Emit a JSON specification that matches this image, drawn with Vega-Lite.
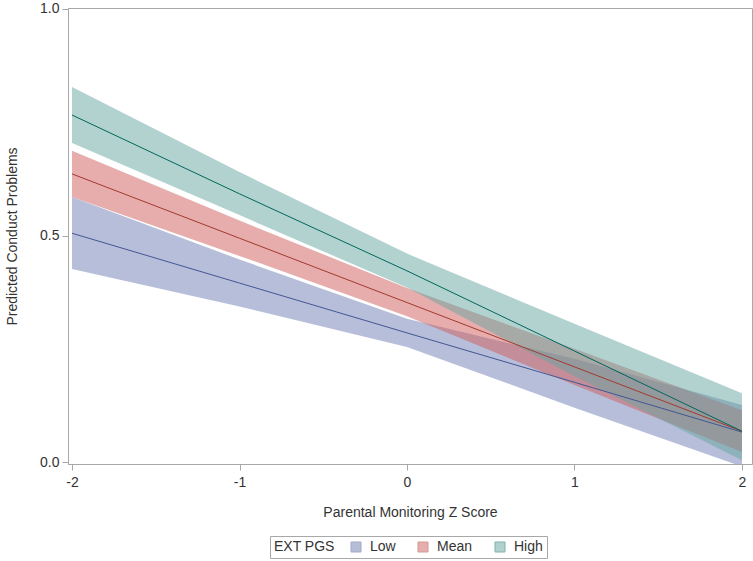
{
  "$schema": "https://vega.github.io/schema/vega-lite/v6.json",
  "width": 684,
  "height": 456,
  "autosize": "none",
  "padding": {"left": 68, "top": 8, "right": 1, "bottom": 97},
  "background": "white",
  "config": {
    "font": "Liberation Sans",
    "view": {"stroke": "#a8a8a8", "strokeWidth": 1},
    "axis": {
      "grid": false,
      "domainColor": "#a8a8a8",
      "tickColor": "#a8a8a8",
      "labelColor": "#333333",
      "titleColor": "#333333",
      "labelFontSize": 14,
      "titleFontSize": 14,
      "titleFontWeight": "normal",
      "labelFont": "Liberation Sans",
      "titleFont": "Liberation Sans",
      "tickSize": 6
    }
  },
  "data": {
    "values": [
      {"g": "Low", "x": -2, "fit": 0.505, "lo": 0.426, "hi": 0.585},
      {"g": "Low", "x": -1, "fit": 0.395, "lo": 0.343, "hi": 0.447},
      {"g": "Low", "x": 0, "fit": 0.285, "lo": 0.254, "hi": 0.316},
      {"g": "Low", "x": 1, "fit": 0.176, "lo": 0.12, "hi": 0.228},
      {"g": "Low", "x": 2, "fit": 0.066, "lo": -0.01, "hi": 0.126},
      {"g": "Mean", "x": -2, "fit": 0.636, "lo": 0.585, "hi": 0.687},
      {"g": "Mean", "x": -1, "fit": 0.494, "lo": 0.455, "hi": 0.533},
      {"g": "Mean", "x": 0, "fit": 0.352, "lo": 0.322, "hi": 0.384},
      {"g": "Mean", "x": 1, "fit": 0.21, "lo": 0.17, "hi": 0.25},
      {"g": "Mean", "x": 2, "fit": 0.068, "lo": 0.022, "hi": 0.114},
      {"g": "High", "x": -2, "fit": 0.766, "lo": 0.704, "hi": 0.828},
      {"g": "High", "x": -1, "fit": 0.592, "lo": 0.545, "hi": 0.64},
      {"g": "High", "x": 0, "fit": 0.422, "lo": 0.385, "hi": 0.46},
      {"g": "High", "x": 1, "fit": 0.245, "lo": 0.19, "hi": 0.305},
      {"g": "High", "x": 2, "fit": 0.068, "lo": 0.004, "hi": 0.152}
    ]
  },
  "encoding": {
    "x": {
      "field": "x",
      "type": "quantitative",
      "scale": {"domain": [-2.024, 2.06], "nice": false, "zero": false},
      "axis": {"values": [-2, -1, 0, 1, 2], "labelExpr": "'' + datum.value", "title": "Parental Monitoring Z Score", "labelPadding": 5, "titlePadding": 16}
    }
  },
  "layer": [
    {
      "mark": {"type": "area", "fillOpacity": 0.5, "clip": true},
      "encoding": {
        "y": {
          "field": "lo",
          "type": "quantitative",
          "scale": {"domain": [-0.0044, 1.0022], "nice": false, "zero": false},
          "axis": {"values": [0, 0.5, 1], "format": ".1f", "title": "Predicted Conduct Problems", "labelPadding": 3, "titlePadding": 20}
        },
        "y2": {"field": "hi"},
        "color": {
          "field": "g",
          "type": "nominal",
          "sort": ["Low", "Mean", "High"],
          "scale": {"domain": ["Low", "Mean", "High"], "range": ["#6F7EB3", "#D05B5B", "#66A5A0"]},
          "legend": {
            "title": "EXT PGS",
            "orient": "none",
            "legendX": 202,
            "legendY": 528,
            "direction": "horizontal",
            "titleOrient": "left",
            "titleFontSize": 14,
            "titleFontWeight": "normal",
            "titleColor": "#333333",
            "labelFontSize": 14,
            "labelColor": "#333333",
            "symbolType": "square",
            "symbolSize": 100,
            "symbolOpacity": 0.5,
            "symbolStrokeColor": "#555555",
            "symbolStrokeWidth": 1,
            "strokeColor": "#a8a8a8",
            "padding": 4,
            "columnPadding": 20,
            "labelOffset": 7,
            "titlePadding": 14
          }
        }
      }
    },
    {
      "mark": {"type": "line", "strokeWidth": 1, "clip": true},
      "encoding": {
        "y": {"field": "fit", "type": "quantitative"},
        "detail": {"field": "g", "type": "nominal"},
        "stroke": {
          "field": "g",
          "type": "nominal",
          "scale": {"domain": ["Low", "Mean", "High"], "range": ["#445694", "#A23A2E", "#01665E"]},
          "legend": null
        }
      }
    }
  ]
}
